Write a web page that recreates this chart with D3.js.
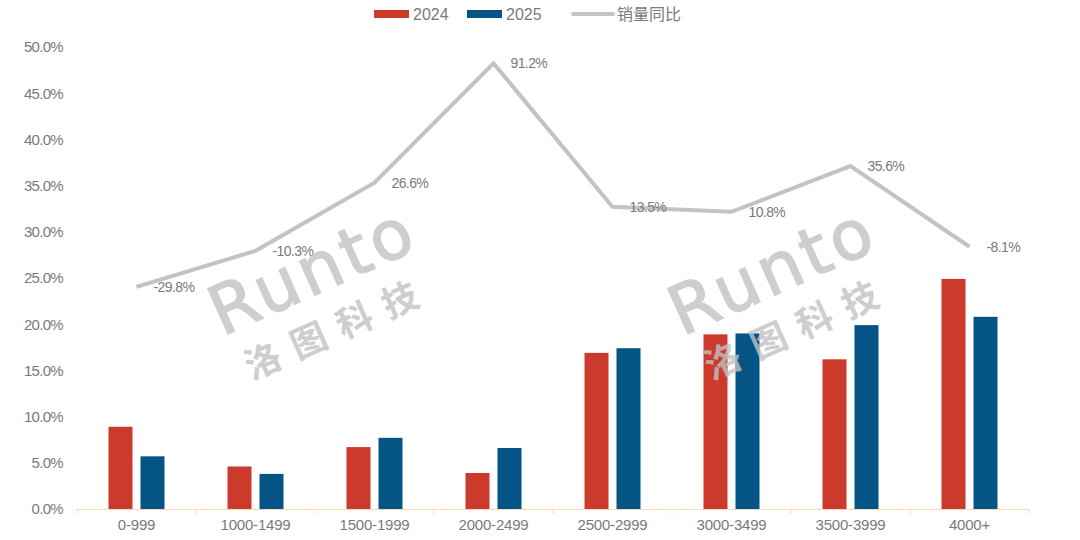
<!DOCTYPE html>
<html>
<head>
<meta charset="utf-8">
<script src="https://cdn.jsdelivr.net/npm/d3@7"></script>
<style>
  body { margin: 0; background: #fff; }
  text { font-family: "Liberation Sans Narrow", "Arial Narrow", "Liberation Sans", "Noto Sans CJK SC", sans-serif; }
</style>
</head>
<body>
<div id="chart"></div>
<script>
// ---------------------------------------------
// data
// ---------------------------------------------
var categories = ["0-999", "1000-1499", "1500-1999", "2000-2499", "2500-2999", "3000-3499", "3500-3999", "4000+"]
var share2024 = [8.9, 4.6, 6.7, 3.9, 16.9, 18.9, 16.2, 24.9]
var share2025 = [5.7, 3.8, 7.7, 6.6, 17.4, 19.0, 19.9, 20.8]
var yoy = [-29.8, -10.3, 26.6, 91.2, 13.5, 10.8, 35.6, -8.1]
var yTicks = [0, 5, 10, 15, 20, 25, 30, 35, 40, 45, 50]
var seriesNames = ["2024", "2025", "销量同比"]

// ---------------------------------------------
// layout
// ---------------------------------------------
var W = 1080, H = 540
var margin = { top: 47, right: 51, bottom: 31, left: 77 }
var red = "#cb3a2a", blue = "#045486", gray = "#c3c3c3", textColor = "#7a7a7a"

var svg = d3.select("#chart").append("svg")
    .attr("width", W).attr("height", H)

var x = d3.scaleBand()
    .domain(categories)
    .range([margin.left, W - margin.right])

var y = d3.scaleLinear()
    .domain([0, 50])
    .range([H - margin.bottom, margin.top])

// hidden secondary axis for the growth line
var y2 = d3.scaleLinear()
    .domain([-150, 100])
    .range([H - margin.bottom, margin.top])

// y axis labels (no line, no grid)
var yAxis = svg.append("g")
    .attr("transform", "translate(" + (margin.left - 14) + ",0)")
    .call(d3.axisLeft(y).tickValues(yTicks).tickSize(0).tickFormat(d => d.toFixed(1) + "%"))
yAxis.select(".domain").remove()
yAxis.selectAll("text")
    .attr("x", 0)
    .style("font-size", "15px")
    .style("letter-spacing", "-0.7px")
    .style("fill", textColor)

// x axis
var xAxis = svg.append("g")
    .attr("transform", "translate(0," + (H - margin.bottom) + ")")
    .call(d3.axisBottom(x).tickSize(0).tickPadding(10))
xAxis.select(".domain").attr("stroke", "#fbd9b8").attr("stroke-width", 1)
xAxis.selectAll("text")
    .style("font-size", "15px")
    .style("letter-spacing", "-0.2px")
    .style("fill", textColor)

// category separators
var edges = categories.map(c => x(c)).concat([x(categories[categories.length - 1]) + x.bandwidth()])
svg.selectAll(".sep")
    .data(edges)
    .enter()
    .append("line")
    .attr("x1", d => d).attr("x2", d => d)
    .attr("y1", H - margin.bottom).attr("y2", H - margin.bottom + 5)
    .attr("stroke", "#fbd9b8")

//---------------------------------------------
// bars
//---------------------------------------------
var barW = 24, gap = 4
var groups = [share2024, share2025]
var colors = [red, blue]
groups.forEach(function (vals, k) {
    svg.selectAll(".bar" + k)
        .data(vals)
        .enter()
        .append("rect")
        .attr("x", (d, i) => {
            var c = x(categories[i]) + x.bandwidth() / 2
            return k == 0 ? c - gap - barW : c + gap
        })
        .attr("y", d => y(d))
        .attr("width", barW)
        .attr("height", d => y(0) - y(d))
        .attr("fill", colors[k])
})

//---------------------------------------------
// growth line
//---------------------------------------------
var line = d3.line()
    .x((d, i) => x(categories[i]) + x.bandwidth() / 2)
    .y(d => y2(d))

svg.append("path")
    .datum(yoy)
    .attr("d", line)
    .attr("fill", "none")
    .attr("stroke", gray)
    .attr("stroke-width", 4)

svg.selectAll(".yoyLabel")
    .data(yoy)
    .enter()
    .append("text")
    .attr("x", (d, i) => x(categories[i]) + x.bandwidth() / 2 + 17)
    .attr("y", d => y2(d) + 5)
    .text(d => d.toFixed(1) + "%")
    .style("font-size", "14px")
    .style("letter-spacing", "-0.6px")
    .style("fill", textColor)

//---------------------------------------------
// watermark on top, semi transparent
//---------------------------------------------
var marks = [{ cx: 322, cy: 292 }, { cx: 782, cy: 292 }]
var wm = svg.selectAll(".wm")
    .data(marks)
    .enter()
    .append("g")
    .attr("transform", d => "translate(" + d.cx + "," + d.cy + ") rotate(-24)")
    .style("opacity", 0.8)
wm.append("text")
    .attr("x", 0).attr("y", 0)
    .attr("text-anchor", "middle")
    .text("Runto")
    .style("font-family", "'DejaVu Sans', sans-serif")
    .style("font-size", "68px")
    .style("fill", "#c2c2c2")
    .style("stroke", "#c2c2c2")
    .style("stroke-width", 1.5)
    .style("letter-spacing", "4px")
wm.append("text")
    .attr("x", 0).attr("y", 52)
    .attr("text-anchor", "middle")
    .text("洛图科技")
    .style("font-family", "'Noto Sans CJK SC', sans-serif")
    .style("font-size", "36px")
    .style("font-weight", "bold")
    .style("fill", "#c2c2c2")
    .style("letter-spacing", "14px")

//---------------------------------------------
// legend
//---------------------------------------------
var legend = svg.append("g").attr("transform", "translate(374,14)")
var legendItems = [
    { name: seriesNames[0], type: "rect", color: red, x: 0 },
    { name: seriesNames[1], type: "rect", color: blue, x: 93 },
    { name: seriesNames[2], type: "line", color: gray, x: 199 }
]
legendItems.forEach(function (d) {
    if (d.type == "rect") {
        legend.append("rect")
            .attr("x", d.x).attr("y", -4)
            .attr("width", 35).attr("height", 8)
            .attr("fill", d.color)
    } else {
        legend.append("line")
            .attr("x1", d.x).attr("x2", d.x + 40)
            .attr("y1", 0).attr("y2", 0)
            .attr("stroke", d.color)
            .attr("stroke-width", 4)
            .attr("stroke-linecap", "round")
    }
    legend.append("text")
        .attr("x", d.x + (d.type == "rect" ? 39 : 44))
        .attr("y", 6)
        .text(d.name)
        .style("font-size", "16px")
        .style("fill", textColor)
})
</script>
</body>
</html>
